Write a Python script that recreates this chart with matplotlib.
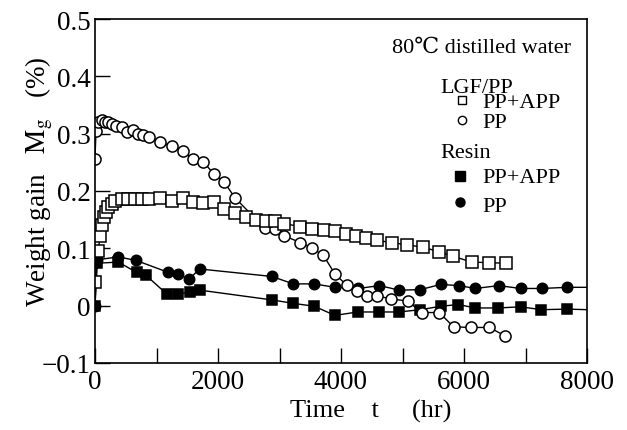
import matplotlib
matplotlib.use("Agg")
import matplotlib.pyplot as plt
from matplotlib.ticker import MultipleLocator, FuncFormatter

plt.rcParams['font.family'] = ['Liberation Serif', 'DejaVu Serif', 'DejaVu Sans', 'Noto Sans CJK JP']
plt.rcParams['mathtext.fontset'] = 'stix'

# LGF/PP, PP+APP (open squares)
t_lgf_app = [0, 54, 81, 108, 146, 179, 217, 271, 325, 434, 542, 650, 759, 883, 1057, 1247,
             1426, 1599, 1761, 1930, 2100, 2276, 2450, 2615, 2778, 2927, 3073, 3340, 3530,
             3718, 3897, 4087, 4250, 4412, 4580, 4824, 5079, 5328, 5599, 5827, 6125, 6412, 6678]
y_lgf_app = [0.042, 0.096, 0.122, 0.140, 0.155, 0.163, 0.172, 0.177, 0.183, 0.186, 0.186,
             0.186, 0.186, 0.186, 0.187, 0.183, 0.187, 0.180, 0.179, 0.181, 0.169, 0.161,
             0.154, 0.150, 0.147, 0.147, 0.143, 0.138, 0.134, 0.132, 0.131, 0.125, 0.122,
             0.118, 0.114, 0.110, 0.106, 0.102, 0.094, 0.086, 0.076, 0.075, 0.074]

# LGF/PP, PP (open circles)
t_lgf_pp = [0, 16, 54, 108, 163, 217, 271, 341, 434, 526, 612, 705, 786, 883, 1057, 1247,
            1436, 1599, 1761, 1930, 2100, 2276, 2764, 2927, 3073, 3340, 3530, 3713, 3902,
            4092, 4255, 4417, 4590, 4805, 5085, 5310, 5599, 5830, 6117, 6412, 6672]
y_lgf_pp = [0.256, 0.305, 0.320, 0.323, 0.321, 0.320, 0.317, 0.313, 0.312, 0.303, 0.306,
            0.300, 0.297, 0.295, 0.285, 0.279, 0.270, 0.256, 0.251, 0.230, 0.216, 0.188,
            0.135, 0.134, 0.122, 0.110, 0.100, 0.088, 0.055, 0.036, 0.026, 0.017, 0.017,
            0.012, 0.008, -0.012, -0.012, -0.037, -0.038, -0.038, -0.053]

# Resin, PP+APP (filled squares); last value is the line end at 8000
t_res_app = [0, 38, 379, 678, 829, 1170, 1350, 1545, 1710, 2880, 3225, 3565, 3902, 4270,
             4610, 4945, 5290, 5625, 5910, 6180, 6560, 6920, 7260, 7680, 8000]
y_res_app = [0.0, 0.074, 0.076, 0.058, 0.053, 0.020, 0.020, 0.024, 0.027, 0.010, 0.004,
             -0.001, -0.017, -0.011, -0.011, -0.011, -0.007, -0.001, 0.002, -0.004, -0.004,
             -0.002, -0.007, -0.006, -0.007]

# Resin, PP (filled circles); last value is the line end at 8000
t_res_pp = [0, 27, 379, 667, 1192, 1355, 1528, 1700, 2873, 3225, 3561, 3902, 4282, 4626,
            4950, 5290, 5620, 5920, 6185, 6565, 6920, 7263, 7680, 8000]
y_res_pp = [0.0, 0.080, 0.085, 0.079, 0.058, 0.055, 0.046, 0.064, 0.051, 0.038, 0.038,
            0.032, 0.030, 0.035, 0.027, 0.028, 0.037, 0.035, 0.030, 0.035, 0.030, 0.030,
            0.032, 0.032]

fig = plt.figure(figsize=(6.27, 4.31), dpi=100)
ax = fig.add_axes([95/627, 1-364/431, (587-95)/627, (364-20)/431])

common = dict(color='black', lw=1.0, mec='black', mew=1.1)
ax.plot(t_res_pp, y_res_pp, marker='o', ms=7.5, mfc='black', markevery=slice(0, len(t_res_pp)-1), **common)
ax.plot(t_res_app, y_res_app, marker='s', ms=7.5, mfc='black', markevery=slice(0, len(t_res_app)-1), **common)
ax.plot(t_lgf_pp, y_lgf_pp, marker='o', ms=8, mfc='white', **common)
ax.plot(t_lgf_app, y_lgf_app, marker='s', ms=8, mfc='white', **common)

ax.set_xlim(0, 8000)
ax.set_ylim(-0.1, 0.5)
ax.xaxis.set_major_locator(MultipleLocator(1000))
ax.yaxis.set_major_locator(MultipleLocator(0.1))
ax.xaxis.set_major_formatter(FuncFormatter(lambda v, p: f"{int(round(v))}" if int(round(v)) % 2000 == 0 else ""))
def yfmt(v, p):
    if abs(v) < 1e-9:
        return "0"
    return f"{v:.1f}".replace("-", "\u2212")
ax.yaxis.set_major_formatter(FuncFormatter(yfmt))
ax.tick_params(direction='in', length=10.5, width=1.0, labelsize=19.5, top=False, right=False)
ax.tick_params(axis='x', pad=4)
ax.tick_params(axis='y', pad=3)
for s in ax.spines.values():
    s.set_linewidth(1.2)

ax.set_xlabel("Time    t     (hr)", fontsize=19)
ax.xaxis.set_label_coords(0.56, -0.105)
ax.set_ylabel(r"Weight gain   $\mathrm{M_g}$   (%)", fontsize=19.5)
ax.yaxis.set_label_coords(-0.082, 0.53)

tr = ax.transAxes
fs = 16
ax.text(0.604, 0.904, "80\u2103 distilled water", transform=tr, fontsize=fs, va='baseline')
ax.text(0.701, 0.787, "LGF/PP", transform=tr, fontsize=fs, va='baseline')
ax.plot([0.746], [0.765], transform=tr, marker='s', ms=6, mfc='white', mec='black', mew=1.0, clip_on=False)
ax.text(0.787, 0.743, "PP+APP", transform=tr, fontsize=fs, va='baseline')
ax.plot([0.746], [0.707], transform=tr, marker='o', ms=6, mfc='white', mec='black', mew=1.0, clip_on=False)
ax.text(0.787, 0.686, "PP", transform=tr, fontsize=fs, va='baseline')
ax.text(0.701, 0.598, "Resin", transform=tr, fontsize=fs, va='baseline')
ax.plot([0.742], [0.545], transform=tr, marker='s', ms=6.5, mfc='black', mec='black', clip_on=False)
ax.text(0.787, 0.525, "PP+APP", transform=tr, fontsize=fs, va='baseline')
ax.plot([0.742], [0.468], transform=tr, marker='o', ms=6.5, mfc='black', mec='black', clip_on=False)
ax.text(0.787, 0.443, "PP", transform=tr, fontsize=fs, va='baseline')

fig.savefig("out.png", dpi=100)
